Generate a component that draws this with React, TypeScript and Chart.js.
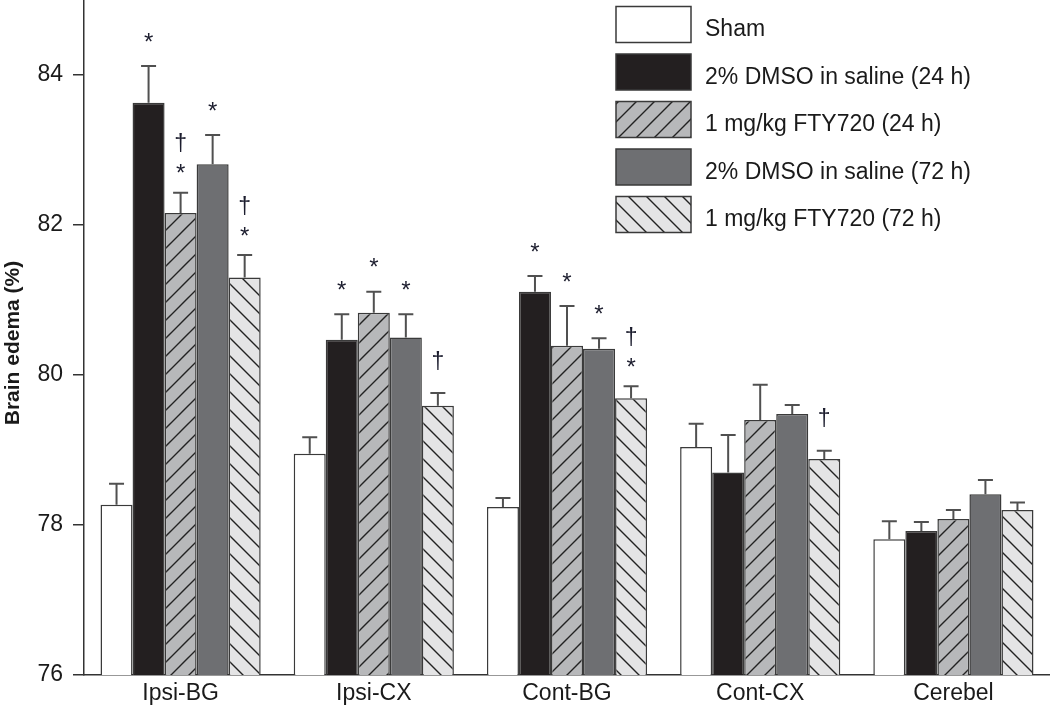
import React, { useEffect, useRef } from 'react';
import { Chart, registerables } from 'chart.js';

Chart.register(...registerables);

const categories = ['Ipsi-BG', 'Ipsi-CX', 'Cont-BG', 'Cont-CX', 'Cerebel'];
const seriesLabels = [
  'Sham',
  '2% DMSO in saline (24 h)',
  '1 mg/kg FTY720 (24 h)',
  '2% DMSO in saline (72 h)',
  '1 mg/kg FTY720 (72 h)',
];

const sham = [78.27, 78.95, 78.24, 79.04, 77.81];
const shamErr = [0.28, 0.22, 0.12, 0.31, 0.24];
const dmso24 = [83.63, 80.47, 81.11, 78.7, 77.92];
const dmso24Err = [0.49, 0.34, 0.21, 0.5, 0.12];
const fty24 = [82.16, 80.83, 80.39, 79.4, 78.08];
const fty24Err = [0.27, 0.28, 0.53, 0.47, 0.12];
const dmso72 = [82.81, 80.5, 80.35, 79.48, 78.41];
const dmso72Err = [0.39, 0.31, 0.14, 0.12, 0.19];
const fty72 = [81.3, 79.59, 79.69, 78.88, 78.2];
const fty72Err = [0.3, 0.17, 0.16, 0.11, 0.1];

const shamSig = ['', '', '', '', ''];
const dmso24Sig = ['*', '*', '*', '', ''];
const fty24Sig = ['†*', '*', '*', '', ''];
const dmso72Sig = ['*', '*', '*', '', ''];
const fty72Sig = ['†*', '†', '†*', '†', ''];

const yTickValues = [76, 78, 80, 82, 84];
const yMin = 76;
const yMax = 85;
const yTitle = 'Brain edema (%)';

const FONT = '"Liberation Sans", Arial, Helvetica, sans-serif';
const TEXT = '#1a1a1a';
const EDGE = '#3a3a3a';

function makeHatch(bg: string, dir: '/' | '\\'): CanvasPattern | string {
  const s = 18;
  const c = document.createElement('canvas');
  c.width = s;
  c.height = s;
  const g = c.getContext('2d');
  if (!g) return bg;
  g.fillStyle = bg;
  g.fillRect(0, 0, s, s);
  g.strokeStyle = '#222';
  g.lineWidth = 1.4;
  g.beginPath();
  if (dir === '/') {
    g.moveTo(-2, s + 2);
    g.lineTo(s + 2, -2);
    g.moveTo(-2, 2);
    g.lineTo(2, -2);
    g.moveTo(s - 2, s + 2);
    g.lineTo(s + 2, s - 2);
  } else {
    g.moveTo(-2, -2);
    g.lineTo(s + 2, s + 2);
    g.moveTo(-2, s - 2);
    g.lineTo(2, s + 2);
    g.moveTo(s - 2, -2);
    g.lineTo(s + 2, 2);
  }
  g.stroke();
  const p = g.createPattern(c, 'repeat');
  return p || bg;
}

export default function App() {
  const ref = useRef<HTMLCanvasElement>(null);

  useEffect(() => {
    const canvas = ref.current;
    if (!canvas) return;
    const fty24Fill = makeHatch('#b7b8ba', '/');
    const fty72Fill = makeHatch('#e4e4e5', '\\');

    const series = [
      { label: seriesLabels[0], data: sham, err: shamErr, sig: shamSig, bg: '#ffffff' as any },
      { label: seriesLabels[1], data: dmso24, err: dmso24Err, sig: dmso24Sig, bg: '#231f20' as any },
      { label: seriesLabels[2], data: fty24, err: fty24Err, sig: fty24Sig, bg: fty24Fill as any },
      { label: seriesLabels[3], data: dmso72, err: dmso72Err, sig: dmso72Sig, bg: '#6e6f72' as any },
      { label: seriesLabels[4], data: fty72, err: fty72Err, sig: fty72Sig, bg: fty72Fill as any },
    ];

    const drawSym = (ctx: CanvasRenderingContext2D, ch: string, x: number, cy: number) => {
      ctx.font = ch === '*' ? `24px ${FONT}` : `23px ${FONT}`;
      const m = ctx.measureText(ch);
      const base = cy + (m.actualBoundingBoxAscent - m.actualBoundingBoxDescent) / 2;
      ctx.fillText(ch, x, base);
    };

    const overlay = {
      id: 'overlay',
      afterDatasetsDraw(chart: any) {
        const ctx: CanvasRenderingContext2D = chart.ctx;
        const yS = chart.scales.y;
        ctx.save();
        series.forEach((s, i) => {
          const meta = chart.getDatasetMeta(i);
          meta.data.forEach((el: any, j: number) => {
            const x = el.x;
            const top = el.y;
            const capY = yS.getPixelForValue(s.data[j] + s.err[j]);
            ctx.strokeStyle = '#505050';
            ctx.lineWidth = 2;
            ctx.beginPath();
            ctx.moveTo(x, top);
            ctx.lineTo(x, capY);
            ctx.moveTo(x - 7.5, capY);
            ctx.lineTo(x + 7.5, capY);
            ctx.stroke();

            const sym = s.sig[j];
            if (!sym) return;
            ctx.fillStyle = '#1c1d2e';
            ctx.textAlign = 'center';
            ctx.textBaseline = 'alphabetic';
            if (sym === '†*') {
              drawSym(ctx, '*', x, capY - 24);
              drawSym(ctx, '†', x, capY - 50);
            } else if (sym === '*') {
              drawSym(ctx, '*', x, capY - 29);
            } else {
              drawSym(ctx, '†', x, capY - 33);
            }
          });
        });
        ctx.restore();
      },
      afterDraw(chart: any) {
        const ctx: CanvasRenderingContext2D = chart.ctx;
        ctx.save();
        // legend
        const bx = 616;
        const bw = 75;
        const bh = 36;
        series.forEach((s, i) => {
          const by = 6.5 + i * 47.5;
          ctx.fillStyle = s.bg;
          ctx.fillRect(bx, by, bw, bh);
          ctx.strokeStyle = EDGE;
          ctx.lineWidth = 1.5;
          ctx.strokeRect(bx, by, bw, bh);
          ctx.fillStyle = TEXT;
          ctx.font = `23px ${FONT}`;
          ctx.textAlign = 'left';
          ctx.textBaseline = 'alphabetic';
          ctx.fillText(s.label, 705, by + 29.5);
        });
        // y title
        ctx.translate(18.5, 343);
        ctx.rotate(-Math.PI / 2);
        ctx.font = `bold 21px ${FONT}`;
        ctx.fillStyle = TEXT;
        ctx.textAlign = 'center';
        ctx.textBaseline = 'alphabetic';
        ctx.fillText(yTitle, 0, 0);
        ctx.restore();
      },
    };

    const chart = new Chart(canvas, {
      type: 'bar',
      data: {
        labels: categories,
        datasets: series.map((s) => ({
          label: s.label,
          data: s.data,
          backgroundColor: s.bg,
          borderColor: EDGE,
          borderWidth: 1.5,
          borderSkipped: 'start',
          categoryPercentage: 0.829,
          barPercentage: 1,
        })),
      },
      options: {
        responsive: false,
        animation: false,
        devicePixelRatio: 1,
        layout: { padding: 0 },
        plugins: {
          legend: { display: false },
          tooltip: { enabled: false },
          title: { display: false },
        },
        scales: {
          x: {
            grid: { display: false, drawTicks: false },
            border: { display: true, color: '#333', width: 1.5 },
            ticks: { font: { family: FONT, size: 23 }, color: TEXT, padding: 5 },
            afterFit: (s: any) => {
              s.height = 32;
              s.paddingLeft = 0;
              s.paddingRight = 0;
            },
          },
          y: {
            min: yMin,
            max: yMax,
            ticks: { stepSize: 2, font: { family: FONT, size: 23 }, color: TEXT, padding: 10 },
            afterBuildTicks: (s: any) => {
              s.ticks = yTickValues.map((v) => ({ value: v }));
            },
            grid: {
              display: true,
              drawOnChartArea: false,
              drawTicks: true,
              tickLength: 11,
              color: '#333',
              lineWidth: 1.5,
            },
            border: { display: true, color: '#333', width: 1.5 },
            afterFit: (s: any) => {
              s.width = 84;
              s.paddingTop = 0;
              s.paddingBottom = 0;
            },
          },
        },
      } as any,
      plugins: [overlay],
    });
    return () => chart.destroy();
  }, []);

  return (
    <div style={{ position: 'absolute', left: 0, top: 0, width: 1050, height: 707, background: '#fff' }}>
      <canvas ref={ref} width={1050} height={707} style={{ display: 'block' }} />
    </div>
  );
}
